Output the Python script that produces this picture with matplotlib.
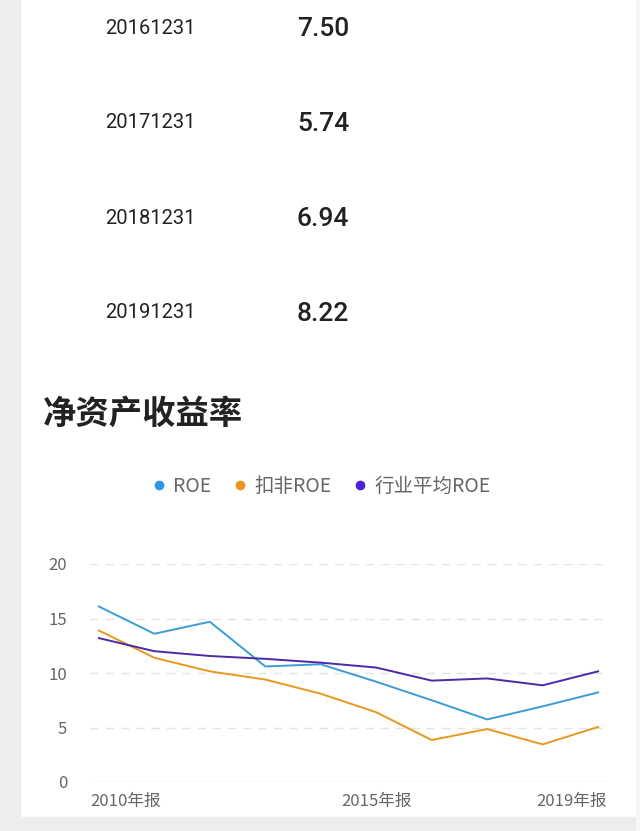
import matplotlib
matplotlib.use("Agg")
import matplotlib.pyplot as plt
from matplotlib.lines import Line2D
from matplotlib.patches import Rectangle

plt.rcParams['font.family'] = ['Noto Sans CJK SC', 'DejaVu Sans']

# table rows above the chart
dates = ["20161231", "20171231", "20181231", "20191231"]
table_values = ["7.50", "5.74", "6.94", "8.22"]

# chart data
years = ["2010年报", "2011年报", "2012年报", "2013年报", "2014年报",
         "2015年报", "2016年报", "2017年报", "2018年报", "2019年报"]
roe = [16.1, 13.6, 14.7, 10.6, 10.8, 9.2, 7.50, 5.74, 6.94, 8.22]
roe_kf = [13.9, 11.4, 10.15, 9.4, 8.1, 6.4, 3.85, 4.86, 3.45, 5.05]
roe_ind = [13.2, 12.0, 11.56, 11.3, 10.95, 10.5, 9.3, 9.5, 8.87, 10.15]
yticks = [0, 5, 10, 15, 20]
shown_xticks = [0, 5, 9]

c_roe = '#3d9bd6'
c_kf = '#e8981f'
c_ind = '#4a2aa6'

W, H = 640, 831
fig = plt.figure(figsize=(W / 100, H / 100), dpi=100)
fig.patch.set_facecolor('white')

# page background strips
grey = '#ededed'
fig.add_artist(Rectangle((0, 0), 20 / W, 1, transform=fig.transFigure, color=grey, zorder=0))
fig.add_artist(Rectangle((0, 0), 1, 14 / H, transform=fig.transFigure, color=grey, zorder=0))
fig.add_artist(Rectangle((636 / W, 0), 4 / W, 1, transform=fig.transFigure, color='#f7f7f7', zorder=0))

# table
row_y = [28, 123, 218, 313]
for d, v, y in zip(dates, table_values, row_y):
    fig.text(105 / W, 1 - y / H, d, ha='left', va='center', fontsize=14.5,
             family=['Roboto', 'DejaVu Sans'], color='#222222')
    fig.text(297 / W, 1 - (y + 1) / H, v, ha='left', va='center', fontsize=19,
             fontweight='medium', family=['Roboto', 'DejaVu Sans'], color='#222222')

# title
fig.text(43 / W, 1 - 414 / H, "净资产收益率", ha='left', va='center',
         fontsize=24, fontweight='bold', color='#222222')

# chart
ax = fig.add_axes([90 / W, 1 - 782 / H, 517 / W, 218 / H])
x = list(range(len(years)))
ax.plot(x, roe, color=c_roe, lw=1.4)
ax.plot(x, roe_kf, color=c_kf, lw=1.4)
ax.plot(x, roe_ind, color=c_ind, lw=1.4)
ax.set_xlim(-0.16, 9.16)
ax.set_ylim(0, 20)
for t in yticks[1:]:
    ax.axhline(t, color='#e4e4e4', lw=1, ls=(0, (6, 5)), zorder=0)
ax.axhline(0, color='#e4e4e4', lw=1, zorder=0)
for s in ax.spines.values():
    s.set_visible(False)
ax.set_yticks(yticks)
ax.set_yticklabels([str(t) for t in yticks])
ax.tick_params(axis='y', length=0, pad=16.5, labelsize=12, labelcolor='#666666')
ax.set_xticks([])
for i in shown_xticks:
    if i == 0:
        xp, ha = -0.16, 'left'
    elif i == len(years) - 1:
        xp, ha = 9.16, 'right'
    else:
        xp, ha = i, 'center'
    ax.text(xp, -1.0, years[i], ha=ha, va='top', fontsize=12, color='#666666')

# legend
handles = [Line2D([], [], marker='o', ls='none', color=c, markersize=6)
           for c in ['#2e98e6', '#ef9320', '#4a22d8']]
fig.legend(handles, ['ROE', '扣非ROE', '行业平均ROE'], loc='center',
           bbox_to_anchor=(0.5, 1 - 486 / H), ncol=3, frameon=False,
           fontsize=14, labelcolor='#666666', handletextpad=0.2,
           columnspacing=1.0, handlelength=1.0)

fig.savefig('out.png', dpi=100)
